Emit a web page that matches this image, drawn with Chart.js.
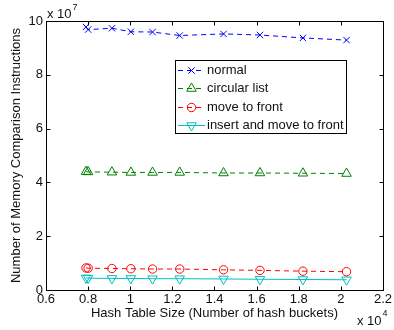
<!DOCTYPE html>
<html><head><meta charset="utf-8">
<script src="https://cdn.jsdelivr.net/npm/chart.js@4.4.1/dist/chart.umd.min.js"></script>
<style>html,body{margin:0;padding:0;background:#fff}#wrap{width:394px;height:330px}</style>
</head><body><div id="wrap"><canvas id="c" width="394" height="330"></canvas></div>
<script>
// Hash table sizes (x 10^4)
const hashSizes = [0.79, 0.80, 0.913, 1.003, 1.106, 1.235, 1.443, 1.616, 1.82, 2.027];
// Memory comparison instructions (x 10^7)
const normal = [9.78, 9.68, 9.73, 9.60, 9.59, 9.46, 9.52, 9.48, 9.37, 9.29];
const circularList = [4.40, 4.39, 4.38, 4.37, 4.37, 4.37, 4.35, 4.35, 4.34, 4.33];
const moveToFront = [0.82, 0.81, 0.80, 0.79, 0.78, 0.78, 0.75, 0.73, 0.70, 0.68];
const insertMoveToFront = [0.45, 0.44, 0.43, 0.43, 0.42, 0.42, 0.41, 0.40, 0.39, 0.38];
const seriesLabels = ['normal', 'circular list', 'move to front', 'insert and move to front'];
const xTicks = [0.6, 0.8, 1.0, 1.2, 1.4, 1.6, 1.8, 2.0, 2.2];
const yTicks = [0, 2, 4, 6, 8, 10];
const xExponent = '4';
const yExponent = '7';
const xTitle = 'Hash Table Size (Number of hash buckets)';
const yTitle = 'Number of Memory Comparison Instructions';

const FONT = '"Liberation Sans", Arial, Helvetica, sans-serif';
const pts = ys => hashSizes.map((x, i) => ({x, y: ys[i]}));

const styles = [
  {color: '#0000ff', pointStyle: 'crossRot', radius: 4.5, rotation: 0, dash: [5, 4]},
  {color: '#008000', pointStyle: 'triangle', radius: 5.5, rotation: 0, dash: [5, 4]},
  {color: '#ff0000', pointStyle: 'circle', radius: 4.2, rotation: 0, dash: [5, 4]},
  {color: '#00bfbf', pointStyle: 'triangle', radius: 5.5, rotation: 180, dash: []}
];
const allSeries = [normal, circularList, moveToFront, insertMoveToFront];

const datasets = allSeries.map((s, i) => ({
  label: seriesLabels[i],
  data: pts(s),
  borderColor: styles[i].color,
  backgroundColor: 'rgba(0,0,0,0)',
  borderWidth: 1,
  borderDash: styles[i].dash,
  pointStyle: styles[i].pointStyle,
  pointRadius: styles[i].radius,
  pointRotation: styles[i].rotation,
  pointBorderColor: styles[i].color,
  pointBackgroundColor: 'rgba(0,0,0,0)',
  pointBorderWidth: 1,
  showLine: true,
  fill: false,
  tension: 0
}));

function drawMarker(ctx, st, x, y) {
  if (Chart.helpers && Chart.helpers.drawPoint) {
    ctx.save();
    ctx.strokeStyle = st.color;
    ctx.fillStyle = 'rgba(0,0,0,0)';
    ctx.lineWidth = 1;
    ctx.setLineDash([]);
    Chart.helpers.drawPoint(ctx, {pointStyle: st.pointStyle, radius: st.radius, rotation: st.rotation, borderWidth: 1}, x, y);
    ctx.restore();
  }
}

const framePlugin = {
  id: 'frame',
  afterDatasetsDraw(chart) {
    const {ctx, chartArea: a, scales: {x, y}} = chart;
    const L = Math.round(a.left) + 0.5, R = Math.round(a.right) + 0.5;
    const T = Math.round(a.top) + 0.5, B = Math.round(a.bottom) + 0.5;
    ctx.save();
    ctx.strokeStyle = '#000';
    ctx.lineWidth = 1;
    ctx.setLineDash([]);
    ctx.strokeRect(L, T, R - L, B - T);
    ctx.beginPath();
    const tl = 4;
    xTicks.forEach(v => {
      const px = Math.round(x.getPixelForValue(v)) + 0.5;
      ctx.moveTo(px, B); ctx.lineTo(px, B - tl);
      ctx.moveTo(px, T); ctx.lineTo(px, T + tl);
    });
    yTicks.forEach(v => {
      const py = Math.round(y.getPixelForValue(v)) + 0.5;
      ctx.moveTo(L, py); ctx.lineTo(L + tl, py);
      ctx.moveTo(R, py); ctx.lineTo(R - tl, py);
    });
    ctx.stroke();

    // exponent labels
    ctx.fillStyle = '#111';
    ctx.textBaseline = 'alphabetic';
    ctx.textAlign = 'left';
    ctx.font = '13px ' + FONT;
    ctx.fillText('x 10', 47, 18);
    let w = ctx.measureText('x 10').width;
    ctx.font = '9px ' + FONT;
    ctx.fillText(yExponent, 47 + w + 1, 10);
    ctx.font = '13px ' + FONT;
    ctx.fillText('x 10', 357, 325);
    w = ctx.measureText('x 10').width;
    ctx.font = '9px ' + FONT;
    ctx.fillText(xExponent, 357 + w + 1, 316);

    // legend
    const lx = 175.5, ly = 60.5, lw = 171, lh = 73;
    ctx.fillStyle = '#fff';
    ctx.fillRect(lx, ly, lw, lh);
    ctx.strokeStyle = '#000';
    ctx.strokeRect(lx, ly, lw, lh);
    ctx.font = '13px ' + FONT;
    ctx.textBaseline = 'middle';
    const rows = [70, 88.3, 106.7, 124.5];
    chart.data.datasets.forEach((ds, i) => {
      const st = styles[i];
      const yy = Math.round(rows[i]) + 0.5;
      ctx.save();
      ctx.strokeStyle = st.color;
      ctx.lineWidth = 1;
      ctx.setLineDash(st.dash.length ? [5, 4] : []);
      ctx.beginPath();
      ctx.moveTo(178, yy); ctx.lineTo(205, yy);
      ctx.stroke();
      ctx.restore();
      drawMarker(ctx, st, 191.5, yy);
      ctx.fillStyle = '#111';
      ctx.fillText(ds.label, 207, yy);
    });
    ctx.restore();
  }
};

new Chart(document.getElementById('c'), {
  type: 'scatter',
  data: {datasets},
  options: {
    responsive: false,
    animation: false,
    devicePixelRatio: 1,
    layout: {padding: {top: 21, right: 9, left: 0, bottom: 0}},
    plugins: {legend: {display: false}, tooltip: {enabled: false}},
    scales: {
      x: {
        type: 'linear', min: 0.6, max: 2.2,
        afterBuildTicks: s => { s.ticks = xTicks.map(v => ({value: v})); },
        afterFit: s => { s.height = 40; },
        grid: {display: false, drawTicks: false},
        border: {display: false},
        ticks: {color: '#111', font: {family: FONT, size: 13}, padding: 2, maxRotation: 0, autoSkip: false,
          callback: v => String(+Number(v).toFixed(1))},
        title: {display: true, text: xTitle, color: '#111', font: {family: FONT, size: 13}, padding: {top: 0, bottom: 9}}
      },
      y: {
        type: 'linear', min: 0, max: 10,
        afterBuildTicks: s => { s.ticks = yTicks.map(v => ({value: v})); },
        afterFit: s => { s.width = 46; },
        grid: {display: false, drawTicks: false},
        border: {display: false},
        ticks: {color: '#111', font: {family: FONT, size: 13}, padding: 3, autoSkip: false,
          callback: v => String(v)},
        title: {display: true, text: yTitle, color: '#111', font: {family: FONT, size: 13}, padding: {top: 9, bottom: 0}}
      }
    }
  },
  plugins: [framePlugin]
});
</script>
</body></html>
